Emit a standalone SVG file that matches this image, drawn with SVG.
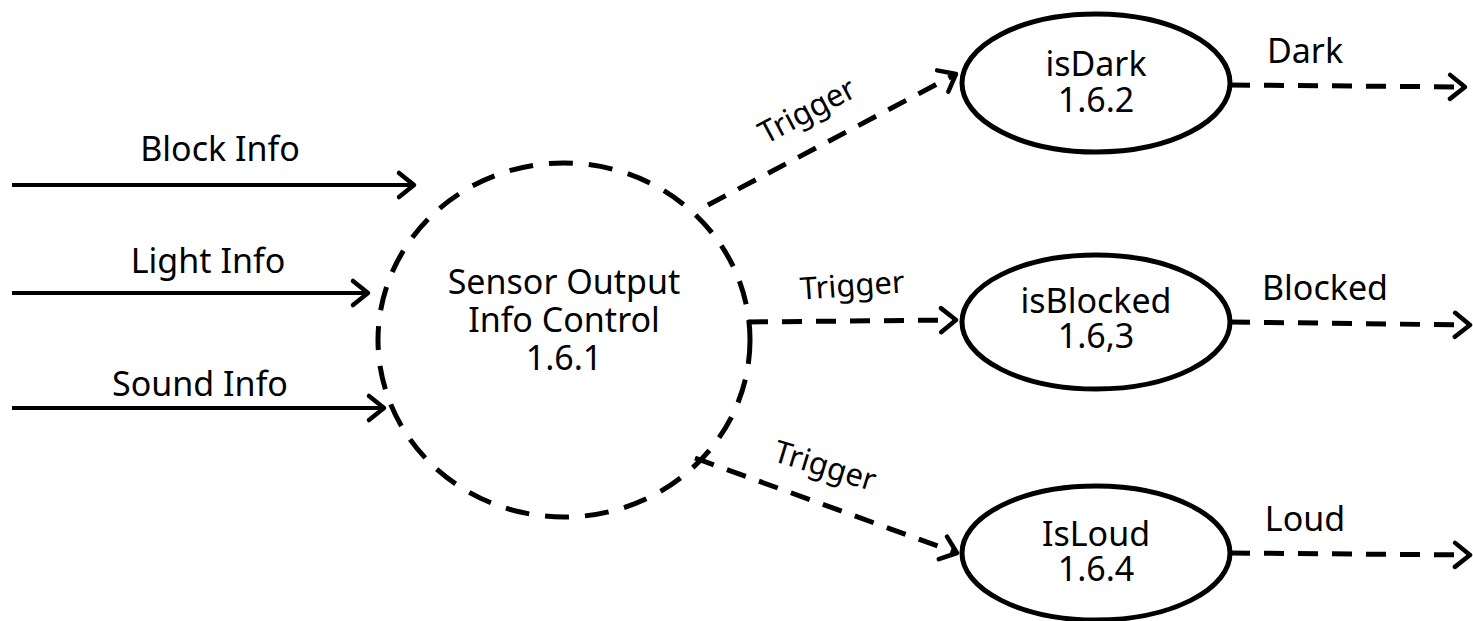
<svg xmlns="http://www.w3.org/2000/svg" width="1473" height="621" viewBox="0 0 1473 621">
<defs>
<style>
text{font-family:"Noto Sans","Open Sans",sans-serif;font-size:34px;fill:#000;text-anchor:middle}
.lbl{font-size:31px}
.solid{stroke:#000;stroke-width:4;fill:none}
.dash{stroke:#000;stroke-width:5;fill:none;stroke-dasharray:20 14}
.node{stroke:#000;stroke-width:5;fill:#fff}
</style>
<marker id="arr" markerUnits="userSpaceOnUse" markerWidth="30" markerHeight="30" viewBox="-20 -15 30 30" refX="0" refY="0" orient="auto" overflow="visible">
<path d="M -15 -12 L 0 0 L -15 12" stroke="#000" stroke-width="4.5" fill="none" stroke-linecap="round" stroke-linejoin="round"/>
</marker>
</defs>
<rect width="1473" height="621" fill="#fff"/>
<g id="connectors">
<line class="solid" x1="12" y1="185" x2="414" y2="185" marker-end="url(#arr)"/>
<line class="solid" x1="12" y1="293" x2="368" y2="293" marker-end="url(#arr)"/>
<line class="solid" x1="12" y1="408" x2="384" y2="408" marker-end="url(#arr)"/>
<line class="dash" x1="708" y1="205" x2="956" y2="74" marker-end="url(#arr)"/>
<line class="dash" x1="748" y1="322" x2="956" y2="320" marker-end="url(#arr)"/>
<line class="dash" x1="695" y1="458" x2="957" y2="553" marker-end="url(#arr)"/>
<line class="dash" x1="1230" y1="85" x2="1465" y2="87" marker-end="url(#arr)"/>
<line class="dash" x1="1230" y1="322" x2="1470" y2="325" marker-end="url(#arr)"/>
<line class="dash" x1="1230" y1="553" x2="1470" y2="555" marker-end="url(#arr)"/>
<text x="220" y="161">Block Info</text>
<text x="208" y="273">Light Info</text>
<text x="200" y="396">Sound Info</text>
<text class="lbl" transform="translate(812 120) rotate(-28)">Trigger</text>
<text class="lbl" transform="translate(853 296) rotate(-4)">Trigger</text>
<text class="lbl" transform="translate(822 476) rotate(17)">Trigger</text>
<text x="1305" y="63">Dark</text>
<text x="1325" y="300">Blocked</text>
<text x="1305" y="531">Loud</text>
</g>
<g id="n161">
<ellipse cx="564" cy="340" rx="186" ry="177" fill="none" stroke="#000" stroke-width="5" stroke-dasharray="24 16"/>
<text x="564" y="294">Sensor Output</text>
<text x="564" y="332">Info Control</text>
<text x="564" y="370">1.6.1</text>
</g>
<g id="n162">
<ellipse class="node" cx="1096" cy="83" rx="134" ry="69"/>
<text x="1096" y="76">isDark</text>
<text x="1096" y="112">1.6.2</text>
</g>
<g id="n163">
<ellipse class="node" cx="1096" cy="322" rx="134" ry="67"/>
<text x="1096" y="313">isBlocked</text>
<text x="1096" y="348">1.6,3</text>
</g>
<g id="n164">
<ellipse class="node" cx="1096" cy="553" rx="134" ry="67"/>
<text x="1096" y="546">IsLoud</text>
<text x="1096" y="581">1.6.4</text>
</g>
</svg>
